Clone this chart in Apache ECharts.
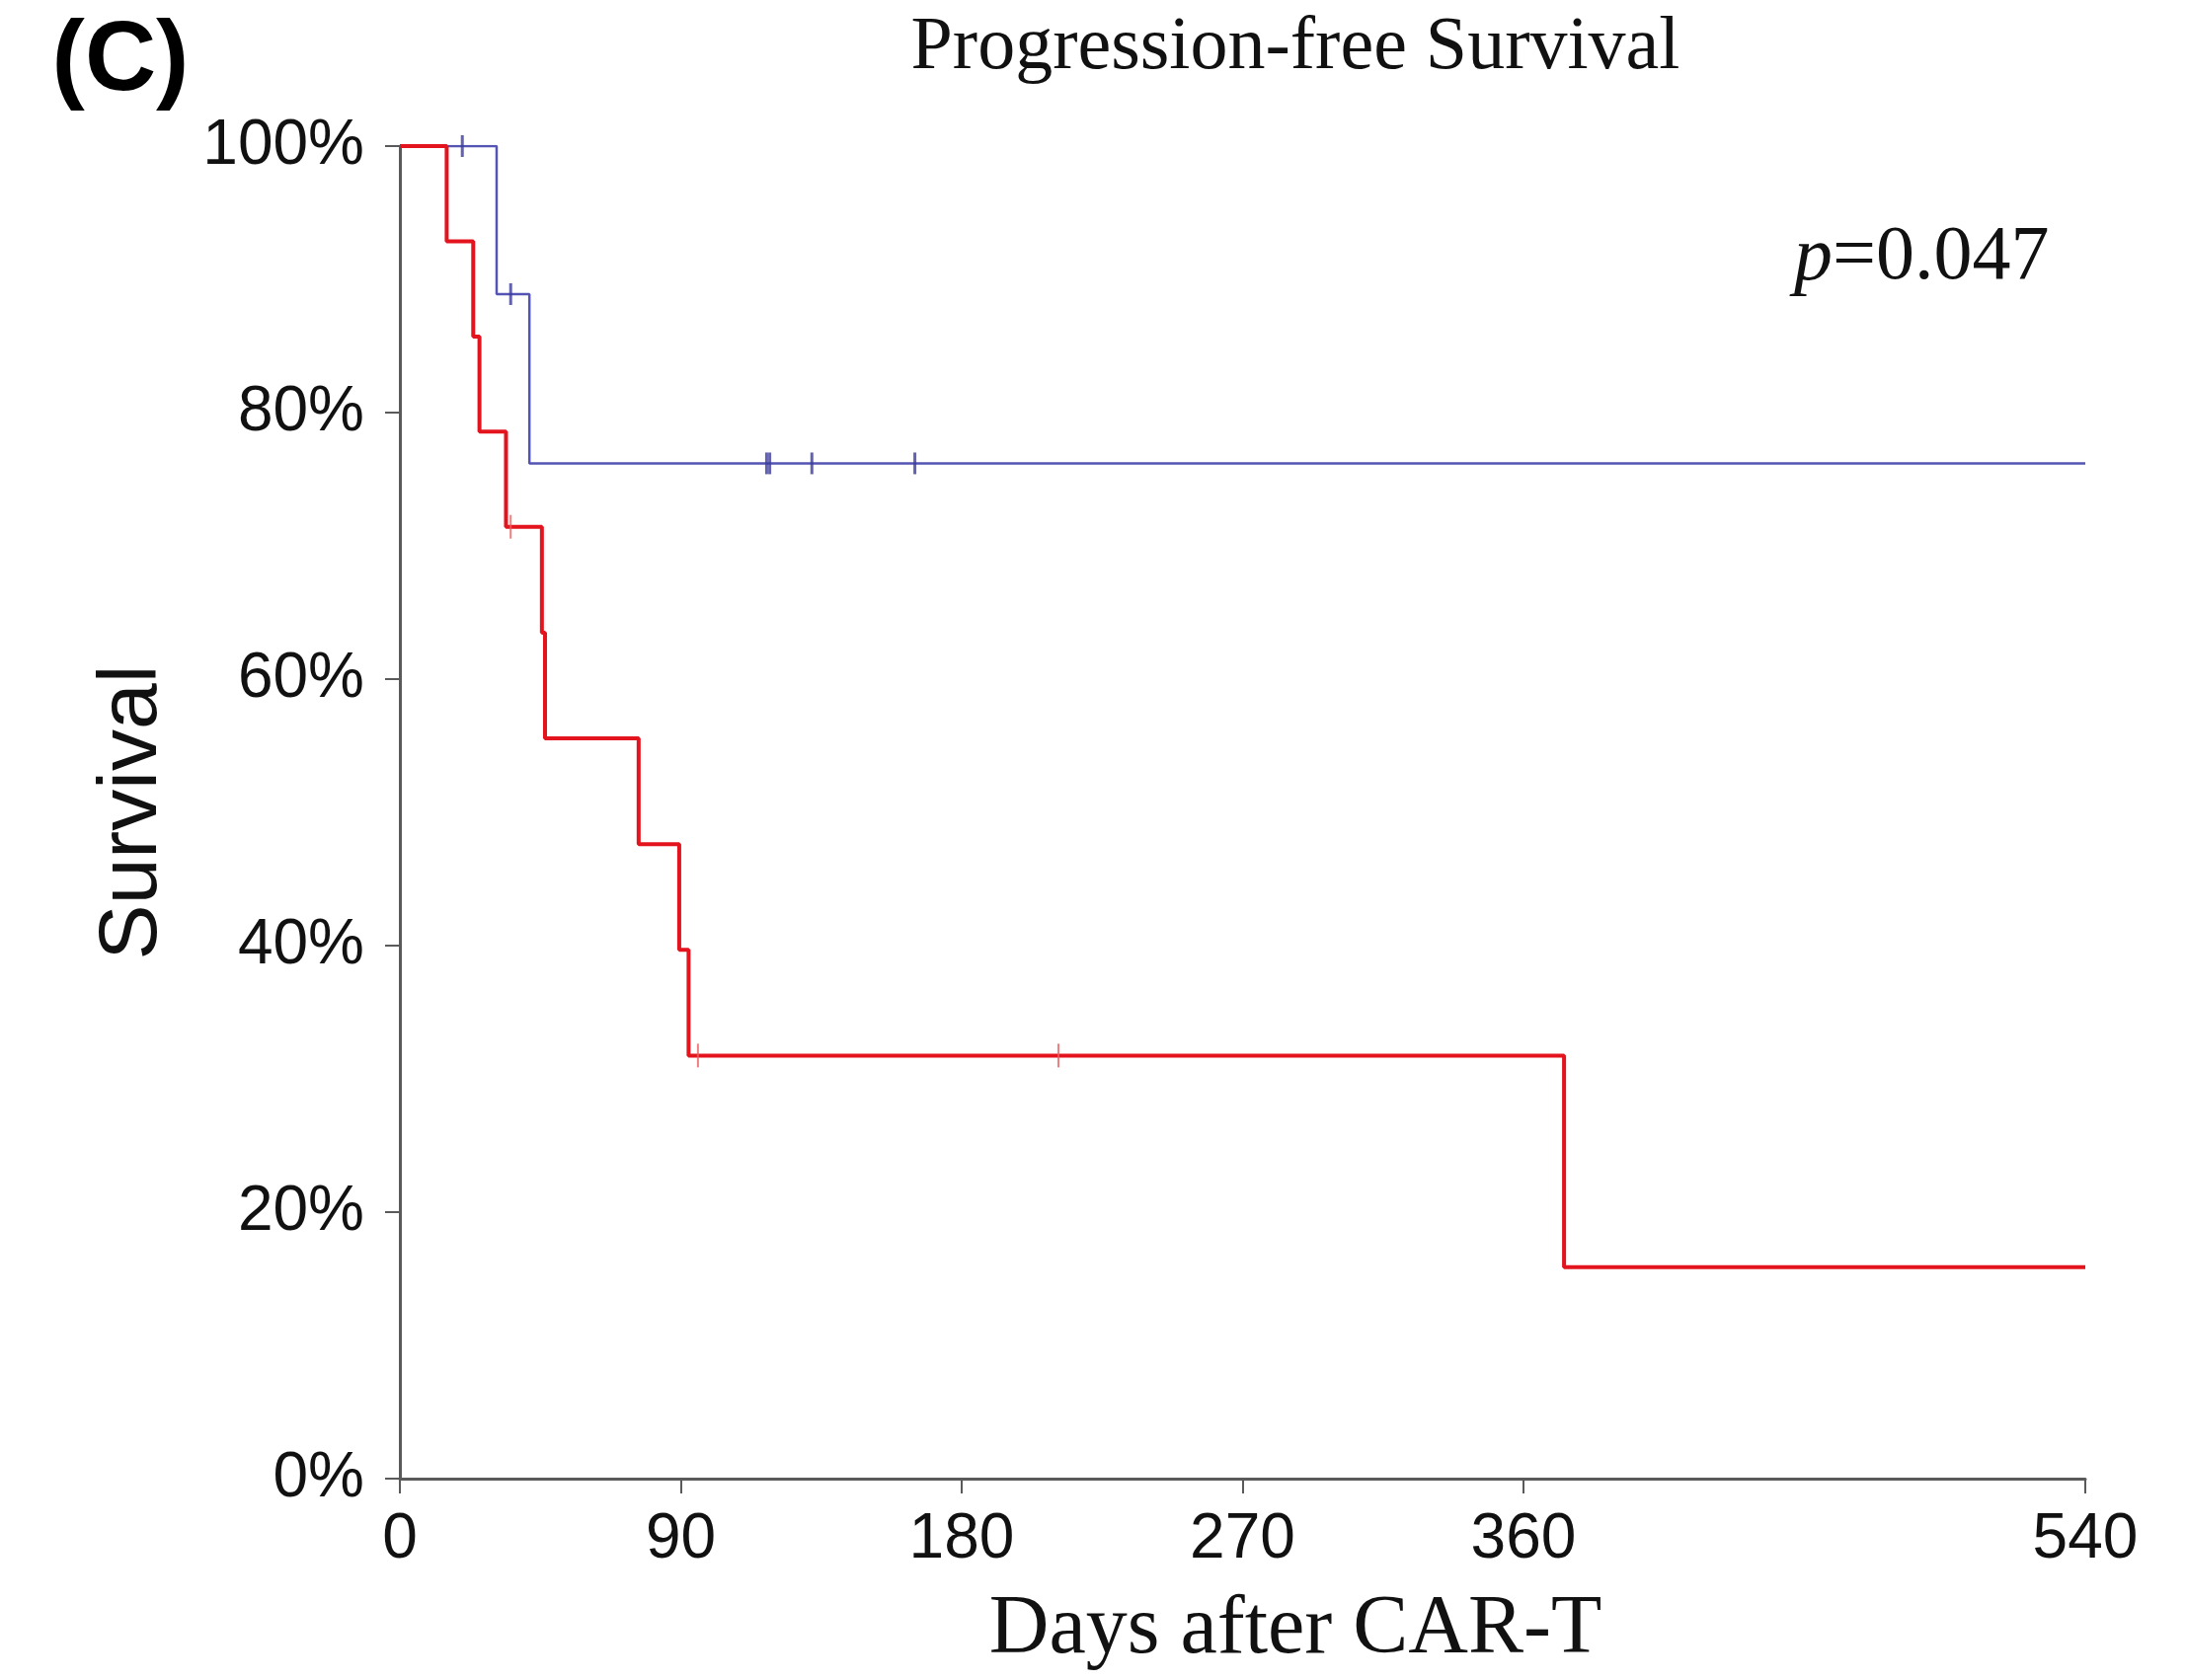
<!DOCTYPE html>
<html>
<head>
<meta charset="utf-8">
<script src="https://cdn.jsdelivr.net/npm/echarts@6/dist/echarts.min.js"></script>
<style>
html,body{margin:0;padding:0;background:#fff;}
#chart{width:2214px;height:1702px;}
</style>
</head>
<body>
<div id="chart"></div>
<script>
// ---- data ----
const xTicks = [0, 90, 180, 270, 360, 540];
const yTicks = [0, 20, 40, 60, 80, 100];

const redTimes = [0, 15, 23.5, 25.5, 34, 45.5, 46.5, 76.5, 89.5, 92.5, 373, 540];
const redSurv  = [100, 92.86, 85.71, 78.57, 71.43, 63.49, 55.56, 47.62, 39.68, 31.75, 15.87, 15.87];
const redCensorTimes = [35.5, 95.5, 211];
const redCensorSurv  = [71.43, 31.75, 31.75];

const blueTimes = [0, 31, 41.5, 540];
const blueSurv  = [100, 88.89, 76.19, 76.19];
const blueCensorTimes = [20, 35.5, 117.5, 118.5, 132, 165];
const blueCensorSurv  = [100, 88.89, 76.19, 76.19, 76.19, 76.19];

const titleText = 'Progression-free Survival';
const xName = 'Days after CAR-T';
const yName = 'Survival';
const panelLabel = '(C)';
const pText = '=0.047';

const zip = (a, b) => a.map((v, i) => [v, b[i]]);

const chart = echarts.init(document.getElementById('chart'), null, {renderer: 'canvas'});
const sans = '"Liberation Sans", Arial, sans-serif';
const serif = '"Liberation Serif", "Times New Roman", serif';

chart.setOption({
  backgroundColor: '#ffffff',
  animation: false,
  grid: {left: 405, right: 102, top: 148, bottom: 204},
  xAxis: {
    type: 'value', min: 0, max: 540,
    splitLine: {show: false},
    axisLine: {show: true, lineStyle: {color: '#5a5a5a', width: 3}},
    axisTick: {show: true, length: 15, lineStyle: {color: '#5a5a5a', width: 2}, customValues: xTicks},
    axisLabel: {customValues: xTicks, color: '#111', fontSize: 64, fontFamily: sans, margin: 30}
  },
  yAxis: {
    type: 'value', min: 0, max: 100, interval: 20,
    splitLine: {show: false},
    axisLine: {show: true, lineStyle: {color: '#5a5a5a', width: 3}},
    axisTick: {show: true, length: 15, lineStyle: {color: '#5a5a5a', width: 2}},
    axisLabel: {formatter: '{value}%', color: '#111', fontSize: 64, fontFamily: sans, margin: 36},
    name: yName, nameLocation: 'middle', nameGap: 228, nameRotate: 90,
    nameTextStyle: {color: '#111', fontSize: 84, fontFamily: sans}
  },
  series: [
    {
      name: 'blue', type: 'line', step: 'end', showSymbol: false, symbol: 'none',
      data: zip(blueTimes, blueSurv),
      lineStyle: {color: '#5454b4', width: 2.5}, z: 2
    },
    {
      name: 'blueCensor', type: 'scatter', symbol: 'rect', symbolSize: [3, 22],
      data: zip(blueCensorTimes, blueCensorSurv),
      itemStyle: {color: '#3b3b9c'}, z: 3
    },
    {
      name: 'red', type: 'line', step: 'end', showSymbol: false, symbol: 'none',
      data: zip(redTimes, redSurv),
      lineStyle: {color: '#e3141e', width: 4}, z: 4
    },
    {
      name: 'redCensor', type: 'scatter', symbol: 'rect', symbolSize: [2, 24],
      data: zip(redCensorTimes, redCensorSurv),
      itemStyle: {color: '#e86060'}, z: 5
    }
  ],
  graphic: [
    {type: 'text', x: 1312, y: 49, style: {text: titleText, font: '76px ' + serif, fill: '#111', align: 'center', verticalAlign: 'middle'}},
    {type: 'text', x: 122, y: 63, style: {text: panelLabel, font: 'bold 100px ' + sans, fill: '#000', align: 'center', verticalAlign: 'middle'}},
    {type: 'text', x: 1312, y: 1652, style: {text: xName, font: '84px ' + serif, fill: '#111', align: 'center', verticalAlign: 'middle'}},
    {type: 'text', x: 1817, y: 262, style: {
      text: '{i|p}{n|' + pText + '}', align: 'left', verticalAlign: 'middle',
      rich: {
        i: {fill: '#111', fontSize: 78, fontStyle: 'italic', fontFamily: serif},
        n: {fill: '#111', fontSize: 78, fontFamily: serif}
      }
    }}
  ]
});
</script>
</body>
</html>
